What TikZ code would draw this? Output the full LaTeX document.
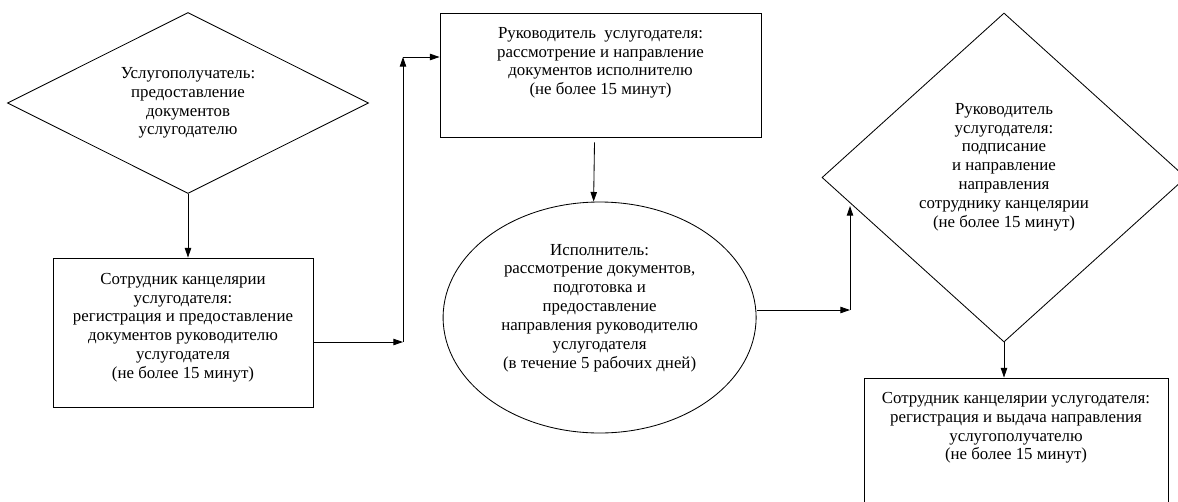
\documentclass[tikz,border=0pt]{standalone}
\usepackage{fontspec}
\setmainfont{Liberation Serif}
\usepackage{tikz}
\usetikzlibrary{positioning,shapes.geometric,arrows.meta}

\begin{document}
\begin{tikzpicture}[
	shapeline/.style={draw, line width=0.6pt, inner sep=0},
	txt/.style={inner sep=0, align=center, font=\fontsize{12}{13.4}\selectfont},
	arr/.style={line width=0.6pt, -{Triangle[length=2.4mm,width=1.6mm]}}]
			%%%%% START %%%%%
			\useasboundingbox (0, 0) rectangle (29.45, -12.525);
			
			\node[shapeline, diamond, minimum width=9.025cm, minimum height=4.525cm] (d1) at (4.7, -2.575) {};
			\node[txt] (t1) at (d1) {Услугополучатель:\\предоставление\\документов\\услугодателю};
			
			\node[shapeline, minimum width=6.5cm, minimum height=3.725cm] (b1) at (4.575, -8.3125) {};
			\node[txt, below=0.38cm of b1.north] (t2) {Сотрудник канцелярии\\услугодателя:\\регистрация и предоставление\\документов руководителю\\услугодателя\\(не более 15 минут)};
			
			\node[shapeline, minimum width=8.025cm, minimum height=3.1cm] (b2) at (15.0125, -1.875) {};
			\node[txt, below=0.36cm of b2.north] (t3) {Руководитель \ услугодателя:\\рассмотрение и направление\\документов исполнителю\\(не более 15 минут)};
			
			\node[shapeline, ellipse, minimum width=7.825cm, minimum height=5.775cm] (e1) at (14.99, -7.9375) {};
			\node[txt] (t4) at ([yshift=0.24cm]e1.center) {Исполнитель:\\рассмотрение документов,\\подготовка и\\предоставление\\направления руководителю\\услугодателя\\(в течение 5 рабочих дней)};
			
			\node[shapeline, diamond, minimum width=9.1cm, minimum height=8.225cm] (d2) at (25.1, -4.4375) {};
			\node[txt] (t5) at ([yshift=0.26cm]d2.center) {Руководитель\\услугодателя:\\подписание\\и направление\\направления\\сотруднику канцелярии\\(не более 15 минут)};
			
			\node[shapeline, minimum width=7.6cm, minimum height=3.425cm] (b3) at (25.4, -11.1625) {};
			\node[txt, below=0.36cm of b3.north] (t6) {Сотрудник канцелярии услугодателя:\\регистрация и выдача направления\\услугополучателю\\(не более 15 минут)};
			
			\coordinate (c1) at (10.075, -8.55);
			\coordinate (c2) at (10.075, -1.425);
			\coordinate (c3) at (21.25, -7.75);
			\coordinate (c4) at (21.25, -5.15);
			
			\draw[arr] (d1.south) -- (d1.south |- b1.north);
			\draw[arr] (b1.east |- c1) -- (c1);
			\draw[arr] (c1) -- (c2);
			\draw[arr] (c2) -- (c2 -| b2.west);
			\draw[arr] ([xshift=-0.15cm, yshift=-0.125cm]b2.south) -- ([xshift=-0.15cm]e1.north);
			\draw[arr] (c3 -| e1.east) -- (c3);
			\draw[arr] (c3) -- (c4);
			\draw[arr] (d2.south) -- (d2.south |- b3.north);
			%%%%% END %%%%%
		\end{tikzpicture}
\end{document}
